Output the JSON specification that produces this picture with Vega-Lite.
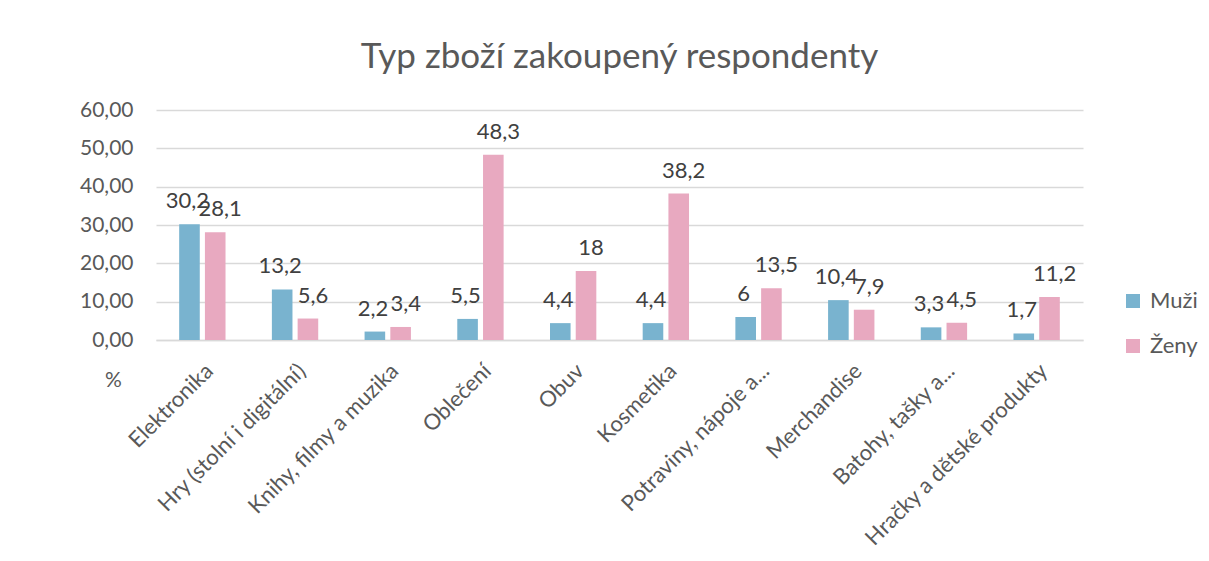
{
  "$schema": "https://vega.github.io/schema/vega-lite/v6.json",
  "width": 927,
  "height": 230,
  "autosize": {"type": "none"},
  "padding": {"left": 156, "top": 110, "right": 126, "bottom": 221},
  "background": "white",
  "config": {
    "locale": {"number": {"decimal": ",", "thousands": " ", "grouping": [3], "currency": ["", " Kč"]}},
    "font": "Lato",
    "view": {"stroke": null}
  },
  "title": {
    "text": "Typ zboží zakoupený respondenty",
    "fontSize": 35,
    "font": "Lato",
    "fontWeight": "normal",
    "color": "#595959",
    "anchor": "middle",
    "frame": "group",
    "baseline": "alphabetic",
    "offset": 2,
    "dy": 6
  },
  "data": {
    "values": [
      {"kategorie": "Elektronika", "pohlavi": "Muži", "hodnota": 30.2},
      {"kategorie": "Elektronika", "pohlavi": "Ženy", "hodnota": 28.1},
      {"kategorie": "Hry (stolní i digitální)", "pohlavi": "Muži", "hodnota": 13.2},
      {"kategorie": "Hry (stolní i digitální)", "pohlavi": "Ženy", "hodnota": 5.6},
      {"kategorie": "Knihy, filmy a muzika", "pohlavi": "Muži", "hodnota": 2.2},
      {"kategorie": "Knihy, filmy a muzika", "pohlavi": "Ženy", "hodnota": 3.4},
      {"kategorie": "Oblečení", "pohlavi": "Muži", "hodnota": 5.5},
      {"kategorie": "Oblečení", "pohlavi": "Ženy", "hodnota": 48.3},
      {"kategorie": "Obuv", "pohlavi": "Muži", "hodnota": 4.4},
      {"kategorie": "Obuv", "pohlavi": "Ženy", "hodnota": 18},
      {"kategorie": "Kosmetika", "pohlavi": "Muži", "hodnota": 4.4},
      {"kategorie": "Kosmetika", "pohlavi": "Ženy", "hodnota": 38.2},
      {"kategorie": "Potraviny, nápoje a...", "pohlavi": "Muži", "hodnota": 6},
      {"kategorie": "Potraviny, nápoje a...", "pohlavi": "Ženy", "hodnota": 13.5},
      {"kategorie": "Merchandise", "pohlavi": "Muži", "hodnota": 10.4},
      {"kategorie": "Merchandise", "pohlavi": "Ženy", "hodnota": 7.9},
      {"kategorie": "Batohy, tašky a...", "pohlavi": "Muži", "hodnota": 3.3},
      {"kategorie": "Batohy, tašky a...", "pohlavi": "Ženy", "hodnota": 4.5},
      {"kategorie": "Hračky a dětské produkty", "pohlavi": "Muži", "hodnota": 1.7},
      {"kategorie": "Hračky a dětské produkty", "pohlavi": "Ženy", "hodnota": 11.2}
    ]
  },
  "encoding": {
    "x": {
      "field": "kategorie",
      "type": "nominal",
      "sort": null,
      "scale": {"paddingInner": 0.5, "paddingOuter": 0.25},
      "axis": {
        "title": null,
        "labelAngle": -45,
        "labelFontSize": 22,
        "labelColor": "#595959",
        "labelPadding": 20,
        "labelOffset": 0,
        "labelLimit": 400,
        "ticks": false,
        "domainColor": "#d9d9d9",
        "domainWidth": 1.3
      }
    },
    "xOffset": {"field": "pohlavi", "type": "nominal", "sort": ["Muži", "Ženy"], "scale": {"paddingInner": 0.2}},
    "y": {
      "field": "hodnota",
      "type": "quantitative",
      "scale": {"domain": [0, 60]},
      "axis": {
        "values": [0, 10, 20, 30, 40, 50, 60],
        "labelExpr": "replace(format(datum.value, '.2f'), '.', ',')",
        "labelFontSize": 21,
        "labelColor": "#595959",
        "labelPadding": 23,
        "domain": false,
        "ticks": false,
        "gridColor": "#d9d9d9",
        "gridWidth": 1.3,
        "title": "%",
        "titleAngle": 0,
        "titleFontSize": 21,
        "titleFontWeight": "normal",
        "titleColor": "#595959",
        "titleX": -43,
        "titleY": 270,
        "titleAlign": "center",
        "titleBaseline": "middle"
      }
    }
  },
  "layer": [
    {
      "mark": {"type": "bar"},
      "encoding": {
        "color": {
          "field": "pohlavi",
          "type": "nominal",
          "sort": ["Muži", "Ženy"],
          "scale": {"domain": ["Muži", "Ženy"], "range": ["#79b3cf", "#e8a9c0"]},
          "legend": {
            "title": null,
            "orient": "none",
            "legendX": 966,
            "legendY": 180,
            "padding": 0,
            "symbolType": "square",
            "symbolSize": 196,
            "symbolStrokeWidth": 0,
            "labelFontSize": 22,
            "labelColor": "#595959",
            "labelOffset": 6,
            "rowPadding": 23
          }
        }
      }
    },
    {
      "transform": [{"filter": "datum.pohlavi === 'Muži'"}],
      "mark": {"type": "text", "dy": -16, "dx": -2, "baseline": "alphabetic", "fontSize": 22, "color": "#404040"},
      "encoding": {
        "text": {"field": "hodnota", "type": "quantitative", "format": "~r"}
      }
    },
    {
      "transform": [{"filter": "datum.pohlavi === 'Ženy'"}],
      "mark": {"type": "text", "dy": -16, "dx": 5, "baseline": "alphabetic", "fontSize": 22, "color": "#404040"},
      "encoding": {
        "text": {"field": "hodnota", "type": "quantitative", "format": "~r"}
      }
    }
  ]
}
